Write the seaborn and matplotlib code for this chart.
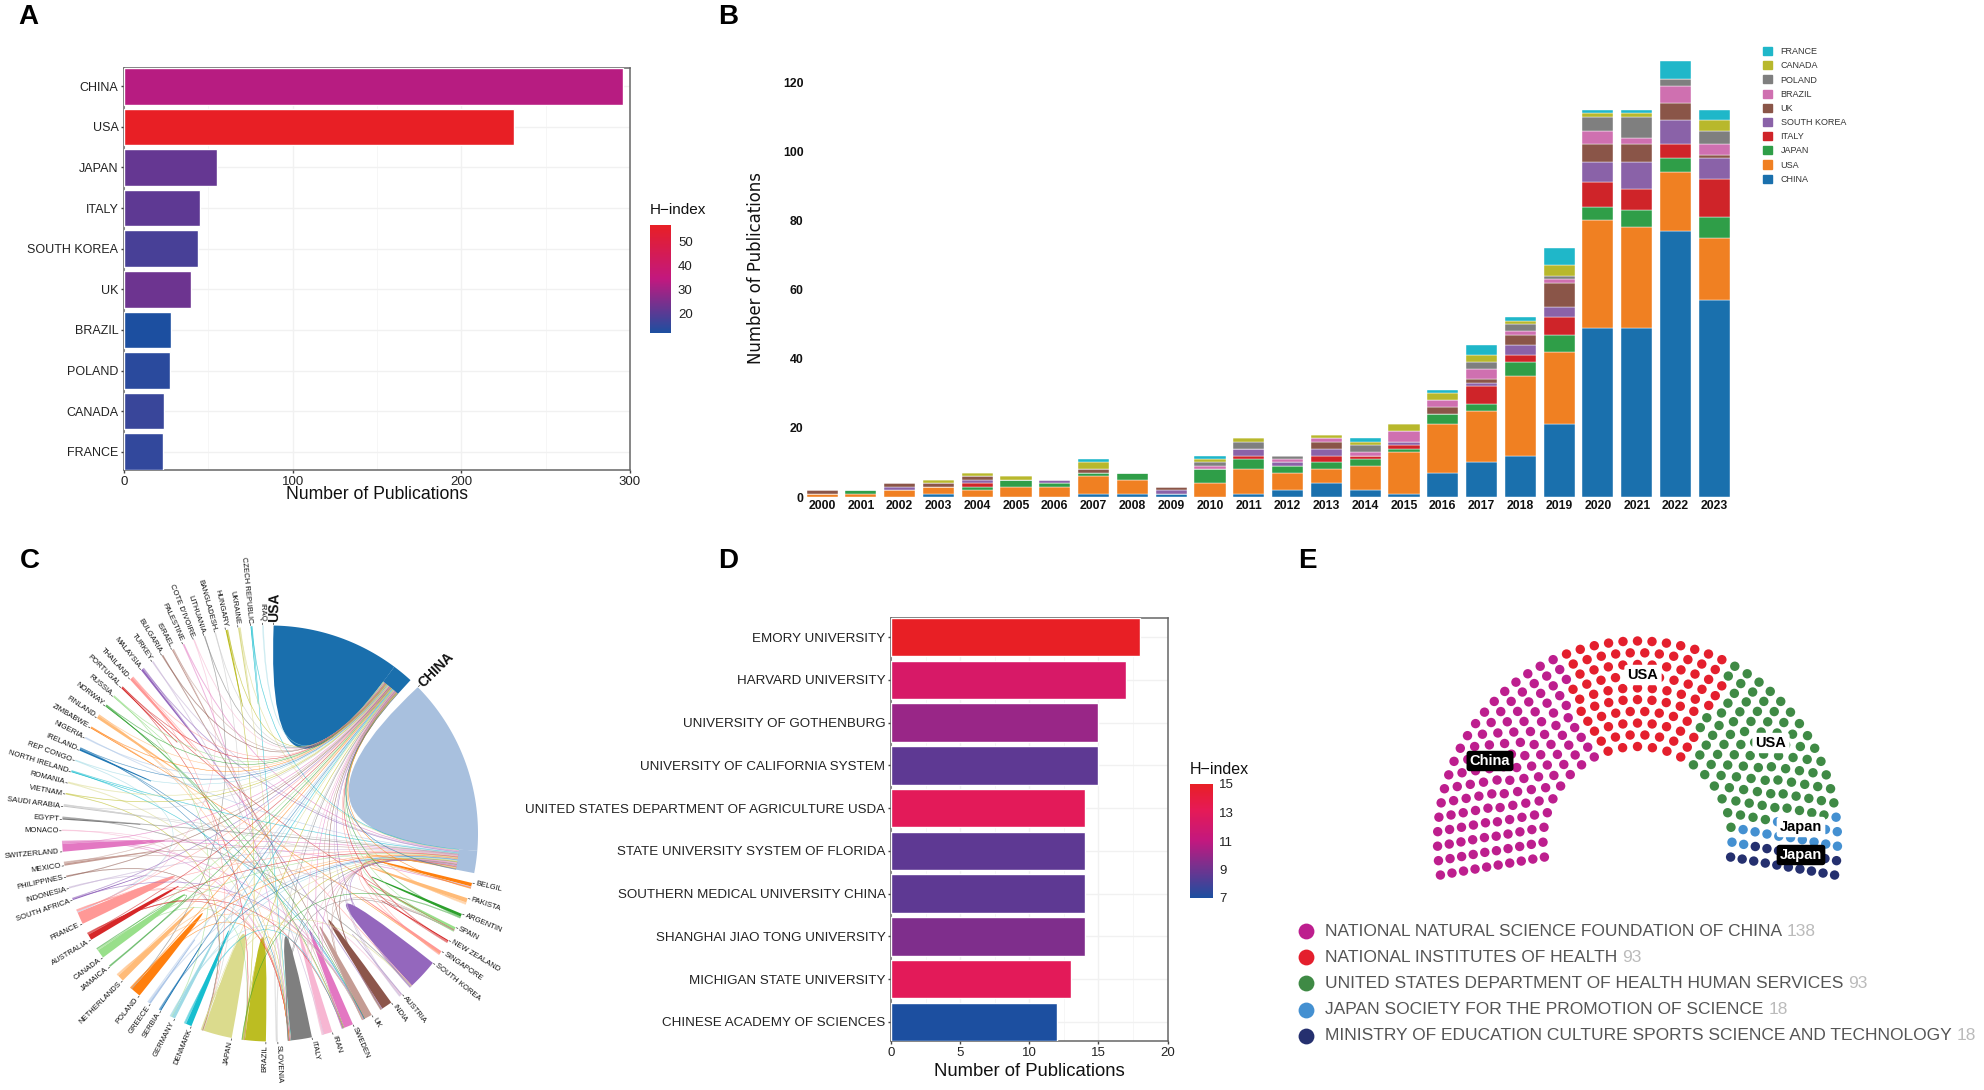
import numpy as np
import pandas as pd
import matplotlib
matplotlib.use("Agg")
import matplotlib.pyplot as plt
import seaborn as sns
from matplotlib.colors import LinearSegmentedColormap, Normalize
from matplotlib.cm import ScalarMappable
from matplotlib.patches import PathPatch, Patch
from matplotlib.path import Path

W, H = 1984, 1090

# panel A
countries = ["CHINA", "USA", "JAPAN", "ITALY", "SOUTH KOREA", "UK", "BRAZIL", "POLAND", "CANADA", "FRANCE"]
country_pubs = [296, 231, 55, 45, 44, 40, 28, 27, 24, 23]
country_h = [33, 57, 22, 21, 18, 23, 12, 14, 16, 15]

# panel B
years = [str(y) for y in range(2000, 2024)]
china = [0, 0, 0, 1, 0, 0, 0, 1, 1, 1, 0, 1, 2, 4, 2, 1, 7, 10, 12, 21, 49, 49, 77, 57]
usa = [1, 1, 2, 2, 2, 3, 3, 5, 4, 0, 4, 7, 5, 4, 7, 12, 14, 15, 23, 21, 31, 29, 17, 18]
japan = [0, 1, 0, 0, 1, 2, 1, 1, 2, 0, 4, 3, 2, 2, 2, 1, 3, 2, 4, 5, 4, 5, 4, 6]
italy = [0, 0, 0, 0, 1, 0, 0, 0, 0, 0, 0, 1, 0, 2, 1, 1, 0, 5, 2, 5, 7, 6, 4, 11]
south_korea = [0, 0, 1, 0, 1, 0, 1, 0, 0, 1, 0, 2, 1, 2, 0, 1, 0, 1, 3, 3, 6, 8, 7, 6]
uk = [1, 0, 1, 1, 1, 0, 0, 1, 0, 1, 0, 0, 0, 2, 0, 0, 2, 1, 3, 7, 5, 5, 5, 1]
brazil = [0, 0, 0, 0, 0, 0, 0, 0, 0, 0, 1, 0, 1, 1, 1, 3, 2, 3, 1, 1, 4, 2, 5, 3]
poland = [0, 0, 0, 0, 0, 0, 0, 0, 0, 0, 1, 2, 1, 0, 2, 0, 0, 2, 2, 1, 4, 6, 2, 4]
canada = [0, 0, 0, 1, 1, 1, 0, 2, 0, 0, 1, 1, 0, 1, 1, 2, 2, 2, 1, 3, 1, 1, 0, 3]
france = [0, 0, 0, 0, 0, 0, 0, 1, 0, 0, 1, 0, 0, 0, 1, 0, 1, 3, 1, 5, 1, 1, 5, 3]
year_series = [china, usa, japan, italy, south_korea, uk, brazil, poland, canada, france]
year_names = ["CHINA", "USA", "JAPAN", "ITALY", "SOUTH KOREA", "UK", "BRAZIL", "POLAND", "CANADA", "FRANCE"]
year_colors = ["#1a70ad", "#f08022", "#2f9e48", "#cf2429", "#8a62a8", "#8a5548", "#cf70b0", "#7f7f7f", "#b8b82c", "#1fb7c9"]

# panel C
sector_names = ["USA", "CHINA", "BELGIL", "PAKISTA", "ARGENTIN", "SPAIN", "NEW ZEALAND", "SINGAPORE",
                "SOUTH KOREA", "AUSTRIA", "INDIA", "UK", "SWEDEN", "IRAN", "ITALY", "SLOVENIA", "BRAZIL",
                "JAPAN", "DENMARK", "GERMANY", "SERBIA", "GREECE", "POLAND", "NETHERLANDS", "JAMAICA",
                "CANADA", "AUSTRALIA", "FRANCE", "SOUTH AFRICA", "INDONESIA", "PHILIPPINES", "MEXICO",
                "SWITZERLAND", "MONACO", "EGYPT", "SAUDI ARABIA", "VIETNAM", "ROMANIA", "NORTH IRELAND",
                "REP CONGO", "IRELAND", "NIGERIA", "ZIMBABWE", "FINLAND", "NORWAY", "RUSSIA", "PORTUGAL",
                "THAILAND", "MALAYSIA", "TURKEY", "BULGARIA", "ISRAEL", "PALESTINE", "COTE D'IVOIRE",
                "LITHUANIA", "BANGLADESH", "HUNGARY", "UKRAINE", "CZECH REPUBLIC", "IRAQ"]
sector_sizes = [41.5, 55.7, 1.6, 1.8, 1.3, 1.3, 0.8, 1.2, 9.3, 1.0, 3.6, 3.0, 3.3, 3.0, 6.7, 0.5, 6.7, 8.8, 2.2,
                1.6, 0.7, 1.0, 3.4, 2.4, 0.4, 3.1, 2.2, 4.3, 0.6, 0.4, 0.4, 1.1, 3.0, 0.3, 0.8, 0.7, 0.3, 0.4,
                0.5, 0.3, 0.9, 0.4, 0.5, 1.2, 0.6, 0.5, 0.6, 1.2, 1.0, 0.4, 0.4, 0.6, 0.4, 0.3, 0.3, 0.3, 0.7,
                0.7, 0.5, 0.3]
self_sizes = [35.7, 49.5, 1.0, 1.2, 0.8, 0.8, 0.3, 0.7, 8.5, 0.4, 3.0, 2.2, 2.6, 2.4, 5.8, 0.0, 5.8, 8.0, 1.6,
              1.0, 0.3, 0.5, 2.8, 1.8, 0.0, 2.4, 1.6, 3.4, 0.3, 0.0, 0.0, 0.6, 2.2, 0.0, 0.4, 0.3, 0.0, 0.0,
              0.2, 0.0, 0.5, 0.0, 0.2, 0.8, 0.2, 0.2, 0.3, 0.8, 0.6, 0.0, 0.0, 0.3, 0.0, 0.0, 0.0, 0.0, 0.4,
              0.4, 0.2, 0.0]
link_pairs = [
    ("IRAQ", "USA"), ("CZECH REPUBLIC", "CHINA"), ("CZECH REPUBLIC", "ITALY"), ("UKRAINE", "CHINA"),
    ("UKRAINE", "ITALY"), ("HUNGARY", "USA"), ("HUNGARY", "BRAZIL"), ("BANGLADESH", "USA"),
    ("BANGLADESH", "JAPAN"), ("LITHUANIA", "USA"), ("LITHUANIA", "POLAND"), ("COTE D'IVOIRE", "FRANCE"),
    ("COTE D'IVOIRE", "USA"), ("PALESTINE", "ITALY"), ("PALESTINE", "CHINA"), ("ISRAEL", "USA"),
    ("ISRAEL", "SWEDEN"), ("BULGARIA", "USA"), ("BULGARIA", "UK"), ("TURKEY", "CHINA"), ("TURKEY", "IRAN"),
    ("MALAYSIA", "CHINA"), ("MALAYSIA", "INDIA"), ("THAILAND", "USA"), ("THAILAND", "JAPAN"),
    ("THAILAND", "SOUTH KOREA"), ("PORTUGAL", "BRAZIL"), ("PORTUGAL", "USA"), ("PORTUGAL", "SPAIN"),
    ("RUSSIA", "USA"), ("RUSSIA", "GERMANY"), ("NORWAY", "UK"), ("NORWAY", "SWEDEN"), ("NORWAY", "USA"),
    ("FINLAND", "SWEDEN"), ("FINLAND", "USA"), ("FINLAND", "ITALY"), ("ZIMBABWE", "USA"), ("ZIMBABWE", "SINGAPORE"),
    ("NIGERIA", "USA"), ("NIGERIA", "CHINA"), ("IRELAND", "UK"), ("IRELAND", "USA"), ("IRELAND", "ITALY"),
    ("REP CONGO", "FRANCE"), ("REP CONGO", "USA"), ("NORTH IRELAND", "UK"), ("NORTH IRELAND", "CHINA"),
    ("ROMANIA", "ITALY"), ("ROMANIA", "USA"), ("VIETNAM", "JAPAN"), ("VIETNAM", "USA"), ("SAUDI ARABIA", "CHINA"),
    ("SAUDI ARABIA", "USA"), ("SAUDI ARABIA", "BELGIL"), ("EGYPT", "CHINA"), ("EGYPT", "SOUTH KOREA"),
    ("MONACO", "FRANCE"), ("MONACO", "ITALY"), ("SWITZERLAND", "USA"), ("SWITZERLAND", "CHINA"),
    ("SWITZERLAND", "ITALY"), ("SWITZERLAND", "UK"), ("SWITZERLAND", "BELGIL"), ("MEXICO", "USA"),
    ("MEXICO", "CHINA"), ("MEXICO", "SPAIN"), ("PHILIPPINES", "USA"), ("PHILIPPINES", "JAPAN"),
    ("INDONESIA", "CHINA"), ("INDONESIA", "JAPAN"), ("SOUTH AFRICA", "UK"), ("SOUTH AFRICA", "USA"),
    ("FRANCE", "USA"), ("FRANCE", "CHINA"), ("FRANCE", "ITALY"), ("FRANCE", "UK"), ("AUSTRALIA", "CHINA"),
    ("AUSTRALIA", "USA"), ("AUSTRALIA", "ITALY"), ("AUSTRALIA", "SWEDEN"), ("CANADA", "USA"), ("CANADA", "CHINA"),
    ("CANADA", "BRAZIL"), ("JAMAICA", "USA"), ("JAMAICA", "CANADA"), ("NETHERLANDS", "USA"), ("NETHERLANDS", "CHINA"),
    ("NETHERLANDS", "UK"), ("POLAND", "USA"), ("POLAND", "ITALY"), ("POLAND", "CHINA"), ("GREECE", "CHINA"),
    ("GREECE", "USA"), ("SERBIA", "USA"), ("SERBIA", "CHINA"), ("GERMANY", "USA"), ("GERMANY", "CHINA"),
    ("GERMANY", "UK"), ("DENMARK", "USA"), ("DENMARK", "SWEDEN"), ("JAPAN", "USA"), ("JAPAN", "CHINA"),
    ("JAPAN", "SOUTH KOREA"), ("BRAZIL", "USA"), ("BRAZIL", "ITALY"), ("BRAZIL", "CHINA"), ("SLOVENIA", "USA"),
    ("SLOVENIA", "ITALY"), ("ITALY", "USA"), ("ITALY", "CHINA"), ("ITALY", "SPAIN"), ("IRAN", "USA"),
    ("IRAN", "CHINA"), ("IRAN", "AUSTRIA"), ("SWEDEN", "USA"), ("SWEDEN", "CHINA"), ("UK", "USA"), ("UK", "CHINA"),
    ("UK", "SPAIN"), ("INDIA", "USA"), ("INDIA", "CHINA"), ("AUSTRIA", "USA"), ("AUSTRIA", "CHINA"),
    ("SOUTH KOREA", "USA"), ("SOUTH KOREA", "CHINA"), ("SINGAPORE", "CHINA"), ("SINGAPORE", "USA"),
    ("NEW ZEALAND", "USA"), ("NEW ZEALAND", "CHINA"), ("SPAIN", "USA"), ("SPAIN", "CHINA"), ("ARGENTIN", "USA"),
    ("ARGENTIN", "BRAZIL"), ("PAKISTA", "CHINA"), ("PAKISTA", "USA"), ("BELGIL", "CHINA"), ("BELGIL", "USA"),
    ("USA", "CHINA"),
]

# panel D
universities = ["EMORY UNIVERSITY", "HARVARD UNIVERSITY", "UNIVERSITY OF GOTHENBURG",
                "UNIVERSITY OF CALIFORNIA SYSTEM", "UNITED STATES DEPARTMENT OF AGRICULTURE USDA",
                "STATE UNIVERSITY SYSTEM OF FLORIDA", "SOUTHERN MEDICAL UNIVERSITY CHINA",
                "SHANGHAI JIAO TONG UNIVERSITY", "MICHIGAN STATE UNIVERSITY", "CHINESE ACADEMY OF SCIENCES"]
university_pubs = [18, 17, 15, 15, 14, 14, 14, 14, 13, 12]
university_h = [15, 12.3, 10, 8.6, 13, 8.6, 8.6, 9.4, 13, 7]

# panel E
funders = ["NATIONAL NATURAL SCIENCE FOUNDATION OF CHINA", "NATIONAL INSTITUTES OF HEALTH",
           "UNITED STATES DEPARTMENT OF HEALTH HUMAN SERVICES", "JAPAN SOCIETY FOR THE PROMOTION OF SCIENCE",
           "MINISTRY OF EDUCATION CULTURE SPORTS SCIENCE AND TECHNOLOGY"]
funder_counts = [138, 93, 93, 18, 18]
funder_colors = ["#bd1e8e", "#e41f2d", "#3f8a45", "#4490d1", "#25306f"]

sns.set_style("white")
plt.rcParams["font.family"] = ["Liberation Sans", "DejaVu Sans"]
fig = plt.figure(figsize=(W / 100, H / 100), dpi=100, facecolor="white")


def add_ax(left, top, right, bottom):
    return fig.add_axes([left / W, 1 - bottom / H, (right - left) / W, (bottom - top) / H])


def put_text(x, y, s, **kw):
    return fig.text(x / W, 1 - y / H, s, **kw)


h_cmap = LinearSegmentedColormap.from_list("h", ["#1c4fa0", "#c2187f", "#e81f25"])
h_cmap_d = LinearSegmentedColormap.from_list("hd", [(0, "#1c4fa0"), (0.5, "#c2187f"), (0.78, "#e61a55"), (1, "#e81f25")])


def h_bars(ax, labels, pubs, hvals, norm, cmap, xmax, xmajor, xminor, ylab_size):
    colors = [cmap(norm(v)) for v in hvals]
    sns.barplot(x=pubs, y=labels, hue=labels, palette=colors, dodge=False, width=0.9, saturation=1,
                legend=False, ax=ax, zorder=3)
    ax.set_xlim(0, xmax)
    ax.set_ylim(len(labels) - 0.55, -0.45)
    ax.set_xticks(xmajor)
    ax.set_xticks(xminor, minor=True)
    ax.grid(True, axis="both", which="major", color="#f1f1f1", lw=1.0, zorder=0)
    ax.grid(True, axis="x", which="minor", color="#f6f6f6", lw=0.7, zorder=0)
    ax.set_axisbelow(True)
    for s in ax.spines.values():
        s.set_visible(True)
        s.set_color("#666666")
        s.set_linewidth(1.1)
    ax.tick_params(axis="both", which="major", length=2.5, width=1, color="#444444", pad=1.5,
                   labelcolor="#222222", bottom=True, left=True)
    ax.tick_params(axis="x", labelsize=9.5)
    ax.tick_params(axis="y", labelsize=ylab_size)
    ax.tick_params(axis="x", which="minor", length=0)
    ax.set_ylabel("")
    ax.set_xlabel("")


def h_colorbar(box, norm, cmap, ticks, title, title_xy, title_size):
    cax = add_ax(*box)
    cb = fig.colorbar(ScalarMappable(norm=norm, cmap=cmap), cax=cax, ticks=ticks)
    cb.outline.set_visible(False)
    cax.tick_params(length=4, width=0.8, color="white", direction="in", right=True, left=True, labelsize=9.5,
                    pad=5, labelcolor="#222222")
    put_text(title_xy[0], title_xy[1], title, fontsize=title_size, va="center", ha="left", color="#111111")


# A
ax_a = add_ax(124, 68, 630, 470)
h_bars(ax_a, countries, country_pubs, country_h, Normalize(12, 57), h_cmap, 300, [0, 100, 200, 300], [50, 150, 250], 9.0)
put_text(377, 494, "Number of Publications", fontsize=12.7, ha="center", va="center", color="#111111")
h_colorbar((650, 225, 671, 333), Normalize(12, 57), h_cmap, [20, 30, 40, 50], "H\u2212index", (650, 210), 11)

# B
ax_b = add_ax(806.5, 39, 1735.7, 497)
bottom = np.zeros(len(years))
for vals, col in zip(year_series, year_colors):
    sns.barplot(x=years, y=vals, bottom=bottom, color=col, width=0.8, saturation=1, ax=ax_b,
                edgecolor="white", linewidth=0.3)
    bottom += np.array(vals)
ax_b.set_xlim(-0.4, 23.55)
ax_b.set_ylim(0, 132.5)
ax_b.set_yticks(range(0, 121, 20))
sns.despine(ax=ax_b, left=True, bottom=True)
ax_b.tick_params(length=0, labelsize=8.8, pad=2, labelcolor="#111111")
for lab in ax_b.get_xticklabels() + ax_b.get_yticklabels():
    lab.set_fontweight("bold")
put_text(756, 268, "Number of Publications", family="DejaVu Sans", fontsize=11.9, rotation=90, ha="center",
         va="center", color="#111111")
handles = [Patch(color=c, label=n) for c, n in zip(year_colors[::-1], year_names[::-1])]
fig.legend(handles=handles, loc="upper left", bbox_to_anchor=(1763 / W, 1 - 47 / H), frameon=False, fontsize=6.5,
           handlelength=1.0, handleheight=1.0, labelspacing=0.56, handletextpad=0.95, borderpad=0, borderaxespad=0,
           labelcolor="#333333")

# C
R_px = 208
cx_c, cy_c = 270, 833.5
ax_c = add_ax(cx_c - 270, cy_c - 262, cx_c + 250, H)
ax_c.set_xlim(-270 / R_px, 250 / R_px)
ax_c.set_ylim(-(H - cy_c) / R_px, 262 / R_px)
ax_c.axis("off")
palette = sns.color_palette("tab20")
sector_colors = [palette[i % 20] for i in range(len(sector_names))]
sector_colors[0] = "#1a6fad"
sector_colors[1] = "#a8c0de"
big_sectors = ["USA", "CHINA"]
gap = (360 - sum(sector_sizes)) / len(sector_sizes)
starts = {}
pos = 1.0
for name, size in zip(sector_names, sector_sizes):
    starts[name] = pos
    pos += size + gap


def polar(angle, r=1.0):
    a = np.radians(angle)
    return np.array([r * np.sin(a), r * np.cos(a)])


def ribbon(a0, a1, b0, b1, r_a, r_b, color, alpha, z, lw=0, ctrl=(0, 0)):
    verts = [polar(a0, r_a)]
    codes = [Path.MOVETO]
    for a in np.linspace(a0, a1, max(2, int(abs(a1 - a0)) + 2))[1:]:
        verts.append(polar(a, r_a))
        codes.append(Path.LINETO)
    verts += [ctrl, polar(b0, r_b)]
    codes += [Path.CURVE3, Path.CURVE3]
    for b in np.linspace(b0, b1, max(2, int(abs(b1 - b0)) + 2))[1:]:
        verts.append(polar(b, r_b))
        codes.append(Path.LINETO)
    verts += [ctrl, polar(a0, r_a), polar(a0, r_a)]
    codes += [Path.CURVE3, Path.CURVE3, Path.CLOSEPOLY]
    ax_c.add_patch(PathPatch(Path(verts, codes), fc=color, ec=color if lw else "none", lw=lw, alpha=alpha, zorder=z))


incident = {n: [] for n in sector_names}
for pair_id, (src, dst) in enumerate(link_pairs):
    incident[src].append(pair_id)
    incident[dst].append(pair_id)
slots = {}
for name, size, own in zip(sector_names, sector_sizes, self_sizes):
    first = starts[name] + own
    rest = size - own
    ids = incident[name]
    step = rest / max(len(ids), 1)
    for k, pair_id in enumerate(ids):
        slots[(name, pair_id)] = (first + k * step, first + (k + 1) * step)

for name, size, own, col in zip(sector_names, sector_sizes, self_sizes, sector_colors):
    s = starts[name]
    if own > 0:
        # the two big loops reach a bit past the half radius
        ctrl = polar(s + own / 2, -0.08) if name in big_sectors else (0, 0)
        ribbon(s, s + own, s, s, 1, 1, col, 1, 2, ctrl=ctrl)
    if name in big_sectors:
        t = np.linspace(s + own, s + size, 8)
        outer = [polar(a, 1) for a in t]
        inner = [polar(a, 0.91) for a in t[::-1]]
        ax_c.fill(*zip(*(outer + inner)), color=col, lw=0, zorder=2)
    p0, p1 = polar(s, 1.004), polar(s, 1.012)
    ax_c.plot([p0[0], p1[0]], [p0[1], p1[1]], color="#333333", lw=0.5, zorder=1)
    tx, ty = polar(s, 1.017)
    right_side = s % 360 < 180
    is_big = name in big_sectors
    ax_c.text(tx, ty, name, fontsize=10 if is_big else 5.5, color="#111111",
              rotation=(90 - s) if right_side else (270 - s), rotation_mode="anchor",
              ha="left" if right_side else "right", va="center", fontweight="bold" if is_big else "normal")

colour_of = dict(zip(sector_names, sector_colors))
for pair_id, (src, dst) in enumerate(link_pairs):
    a0, a1 = slots[(src, pair_id)]
    b0, b1 = slots[(dst, pair_id)]
    ribbon(a0, a1, b0, b1, 0.91 if src in big_sectors else 1, 0.91 if dst in big_sectors else 1,
           colour_of[src], 0.42, 3, lw=0.3)

# D
ax_d = add_ax(891, 618, 1167.5, 1041)
h_bars(ax_d, universities, university_pubs, university_h, Normalize(7, 15), h_cmap_d, 20, [0, 5, 10, 15, 20],
       [2.5, 7.5, 12.5, 17.5], 9.6)
put_text(1029, 1071, "Number of Publications", fontsize=13.3, ha="center", va="center", color="#111111")
h_colorbar((1189.5, 784, 1212.5, 898), Normalize(7, 15), h_cmap_d, [7, 9, 11, 13, 15], "H\u2212index", (1189.5, 769), 11.5)

# E
cx, cy = 1637.5, 841.0
radii = np.linspace(94.5, 200, 10)
row_counts = np.round(radii / radii.sum() * sum(funder_counts)).astype(int)
row_counts[-1] += sum(funder_counts) - row_counts.sum()
rows = []
for r, n in zip(radii, row_counts):
    for ang in np.linspace(189.8, -9.8, n):
        rows.append((ang, cx + r * np.cos(np.radians(ang)), cy - r * np.sin(np.radians(ang))))
seats = pd.DataFrame(rows, columns=["angle", "x", "y"]).sort_values("angle", ascending=False).reset_index(drop=True)
seats["funder"] = np.repeat(funders, funder_counts)
ax_e = add_ax(1420, 620, 1860, 900)
sns.scatterplot(data=seats, x="x", y="y", hue="funder", palette=dict(zip(funders, funder_colors)), s=46,
                linewidth=0, legend=False, ax=ax_e)
ax_e.set_xlim(1420, 1860)
ax_e.set_ylim(900, 620)
ax_e.axis("off")
for (x, y, s, dark) in [(1490, 761, "China", True), (1643, 675, "USA", False), (1771, 743, "USA", False),
                        (1801, 827, "Japan", False), (1801, 855, "Japan", True)]:
    put_text(x, y, s, fontsize=10.5, fontweight="bold", ha="center", va="center",
             color="white" if dark else "black",
             bbox=dict(boxstyle="round,pad=0.22", fc="black" if dark else "white", ec="none"))

fig.canvas.draw()
renderer = fig.canvas.get_renderer()
ax_leg = add_ax(0, 0, W, H)
ax_leg.set_xlim(0, W)
ax_leg.set_ylim(H, 0)
ax_leg.axis("off")
ax_leg.patch.set_alpha(0)
for i, (name, count, col) in enumerate(zip(funders, funder_counts, funder_colors)):
    y = 931 + i * 26.2
    sns.scatterplot(x=[1306], y=[y], color=col, s=130, linewidth=0, legend=False, ax=ax_leg)
    t = ax_leg.text(1325, y, name, fontsize=12.55, color="#555555", va="center", ha="left")
    end = t.get_window_extent(renderer).x1
    ax_leg.text(end + 5, y, str(count), fontsize=12.55, color="#bbbbbb", va="center", ha="left")
ax_leg.set_xlim(0, W)
ax_leg.set_ylim(H, 0)

# panel letters
for x, y, s in [(18, 17, "A"), (718, 17, "B"), (20, 561, "C"), (718, 561, "D"), (1298, 561, "E")]:
    put_text(x, y, s, fontsize=20, fontweight="bold", ha="left", va="center", color="black")

fig.savefig("out.png", dpi=100)
